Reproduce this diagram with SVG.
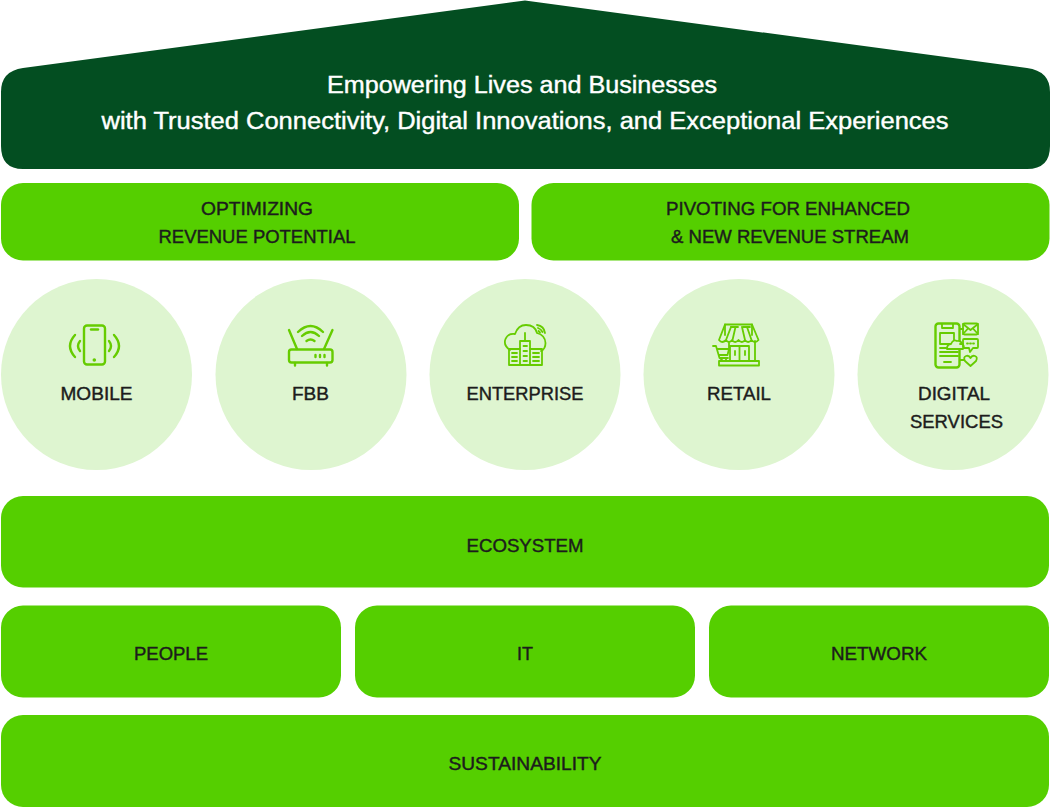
<svg xmlns="http://www.w3.org/2000/svg" width="1050" height="808" viewBox="0 0 1050 808">
<style>
.bar{fill:#55cf00}
.circ{fill:#def5d0}
.t{font-family:"Liberation Sans",Arial,sans-serif;font-size:17.5px;fill:#1c1c1c;text-anchor:middle;stroke:#1c1c1c;stroke-width:.4}
.h{font-family:"Liberation Sans",Arial,sans-serif;font-size:23.5px;fill:#fff;text-anchor:middle;stroke:#fff;stroke-width:.4}
.i{fill:none;stroke:#66cc00;stroke-width:2.400;stroke-linecap:round;stroke-linejoin:round}
.s{stroke-width:1.800}
.d{fill:#66cc00}
</style>
<g id="roof">
<path fill="#034e21" d="M525 .5 L1027 68 Q1050 71 1050 92 V146 Q1050 169 1027 169 H23 Q1 169 1 146 V92 Q1 71 23 68 Z"/>
<text class="h" x="522" y="93" textLength="390" lengthAdjust="spacingAndGlyphs">Empowering Lives and Businesses</text>
<text class="h" x="525" y="129" textLength="847" lengthAdjust="spacingAndGlyphs">with Trusted Connectivity, Digital Innovations, and Exceptional Experiences</text>
</g>
<g id="optimizing">
<rect class="bar" x="1" y="183" width="518" height="77.500" rx="22"/>
<text class="t" x="257" y="215" textLength="112" lengthAdjust="spacingAndGlyphs">OPTIMIZING</text>
<text class="t" x="257" y="243" textLength="197" lengthAdjust="spacingAndGlyphs">REVENUE POTENTIAL</text>
</g>
<g id="pivoting">
<rect class="bar" x="531.500" y="183" width="518" height="77.500" rx="22"/>
<text class="t" x="788" y="215" textLength="244" lengthAdjust="spacingAndGlyphs">PIVOTING FOR ENHANCED</text>
<text class="t" x="790" y="243" textLength="238" lengthAdjust="spacingAndGlyphs">&amp; NEW REVENUE STREAM</text>
</g>
<g id="mobile">
<circle class="circ" cx="96.500" cy="374.500" r="95.500"/>
<rect class="i" x="84" y="325.500" width="21" height="39" rx="3"/>
<path class="i" d="M91 329.500H98"/>
<circle class="d" cx="94.300" cy="360" r="1.800"/>
<path class="i" d="M75 335Q65 346 75 357M80 341Q76 346 80 351M114 335Q124 346 114 357M109 341Q113 346 109 351"/>
<text class="t" x="96.500" y="400" textLength="72" lengthAdjust="spacingAndGlyphs">MOBILE</text>
</g>
<g id="fbb">
<circle class="circ" cx="311" cy="374.500" r="95.500"/>
<rect class="i" x="289" y="349.500" width="43.500" height="13" rx="2.500"/>
<path class="i" d="M289 330L297 349M332.500 330L324 349M295 363V365.500M327 363V365.500M315.500 355V357M320 355V357M324.500 355V357"/>
<path class="i" d="M298 332Q310.500 320 323 332M302 336Q310.500 328 319 336M306.500 341Q310.500 338 314.500 341"/>
<text class="t" x="310.500" y="400" textLength="37" lengthAdjust="spacingAndGlyphs">FBB</text>
</g>
<g id="enterprise">
<circle class="circ" cx="525" cy="374.500" r="95.500"/>
<path class="i s" d="M510 350Q503 345 505.500 339Q508 333 515 334Q518 325 526 325Q535 325 537 333Q545 335 545.500 343Q545.500 349 541 351"/>
<path class="i s" d="M520 365V341H530V365ZM525 341V333M523.500 346H527M523.500 351H527M523.500 356H527M523.500 361H527"/>
<path class="i s" d="M509 365V349H520M530 349H542V365M509 365H542M512 353H517M512 357H517M512 361H517M533 353H539M533 357H539M533 361H539"/>
<path class="i s" d="M537 325Q544 326 545 333M538 328Q541 329 542.500 332M538.500 331L540 332.500"/>
<text class="t" x="525" y="400" textLength="117" lengthAdjust="spacingAndGlyphs">ENTERPRISE</text>
</g>
<g id="retail">
<circle class="circ" cx="739" cy="374.500" r="95.500"/>
<path class="i s" d="M725 335V324.500H752V335M731 327H738M743 327H750"/>
<path class="i s" d="M725 324.500L719 340Q722 344 726 340Q729 344 732 340Q735 344 738.500 340Q742 344 745 340Q748 344 751.500 340Q755 344 758.500 340L752 324.500M731 327L726 340M735.500 327L732.500 340M742 327L745 340M747 327L751.500 340"/>
<path class="i s" d="M755 341V361M729 343V350M730 361V346H749V361M739.500 346V361"/>
<path class="i s" d="M719 361H759V365.500H719Z"/>
<path class="i s" d="M713 346H716L719.500 358H728M717 349H729L727.500 355H719M720 361L722 359M726 361V359"/>
<path class="i s" d="M735 351V355M745 351V355"/>
<text class="t" x="739" y="400" textLength="64" lengthAdjust="spacingAndGlyphs">RETAIL</text>
</g>
<g id="digital">
<circle class="circ" cx="953" cy="374.500" r="95.500"/>
<rect class="i" x="935.500" y="323.500" width="24" height="44" rx="3"/>
<path class="i s" d="M942 324V328H953V324"/>
<rect class="i s" x="940" y="333" width="14" height="11"/>
<path class="i s" d="M940 348H948M940 352H958M940 356H958M944 362H951"/>
<path class="i s" d="M947 349Q947 344 951 344Q953 339 957 341Q961 340 962 344Q965 346 963 349Z" style="fill:#def5d0"/>
<rect class="i s" x="963" y="323.500" width="15" height="11" rx="1.500"/>
<path class="i s" d="M963 324L970.500 330L978 324M963 334L968 328.500M978 334L973 328.500"/>
<path class="i s" d="M964 339H977Q978 339 978 340V347Q978 348 977 348H973L970 352L969 348H964Q963 348 963 347V340Q963 339 964 339ZM967 343.500H968M970 343.500H971M973 343.500H974"/>
<path class="i s" d="M970.500 366L965 361Q963 357 966 356Q969 355 970.500 358Q972 355 975 356Q978 357 976 361Z"/>
<path class="i s" d="M960 329H963M960 344H963M960 360H964"/>
<text class="t" x="954" y="400" textLength="72" lengthAdjust="spacingAndGlyphs">DIGITAL</text>
<text class="t" x="956.500" y="428" textLength="93" lengthAdjust="spacingAndGlyphs">SERVICES</text>
</g>
<g id="ecosystem">
<rect class="bar" x="1" y="496" width="1048" height="91.500" rx="22"/>
<text class="t" x="525" y="552" textLength="117" lengthAdjust="spacingAndGlyphs">ECOSYSTEM</text>
</g>
<g id="people">
<rect class="bar" x="1" y="605.500" width="340" height="92" rx="22"/>
<text class="t" x="171" y="660" textLength="74" lengthAdjust="spacingAndGlyphs">PEOPLE</text>
</g>
<g id="it">
<rect class="bar" x="355" y="605.500" width="340" height="92" rx="22"/>
<text class="t" x="525" y="660" textLength="16" lengthAdjust="spacingAndGlyphs">IT</text>
</g>
<g id="network">
<rect class="bar" x="709" y="605.500" width="340" height="92" rx="22"/>
<text class="t" x="879" y="660" textLength="96" lengthAdjust="spacingAndGlyphs">NETWORK</text>
</g>
<g id="sustainability">
<rect class="bar" x="1" y="715" width="1048" height="92" rx="22"/>
<text class="t" x="525" y="770" textLength="153" lengthAdjust="spacingAndGlyphs">SUSTAINABILITY</text>
</g>
</svg>
